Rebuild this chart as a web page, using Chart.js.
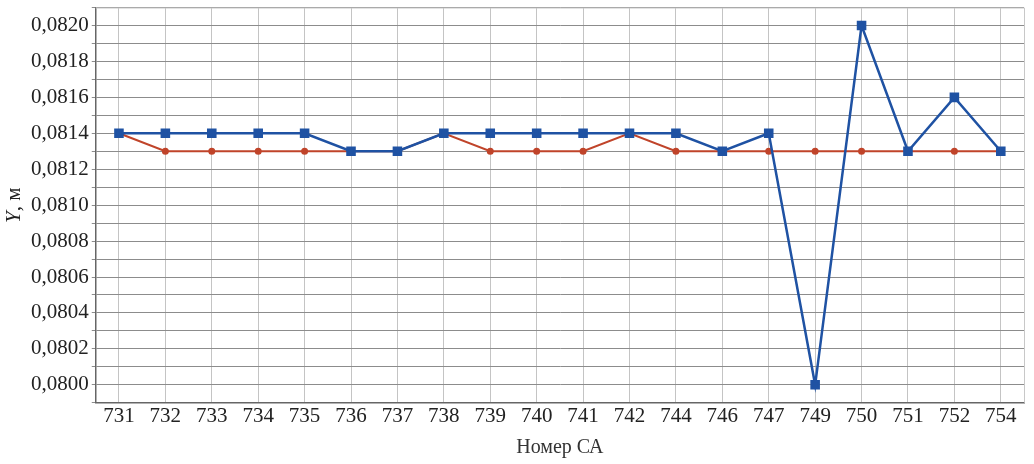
<!DOCTYPE html>
<html>
<head>
<meta charset="utf-8">
<script src="https://cdn.jsdelivr.net/npm/chart.js@4"></script>
<style>
  html, body { margin: 0; padding: 0; background: #fff; }
  #wrap { width: 1034px; height: 464px; }
</style>
</head>
<body>
<div id="wrap"><canvas id="chart"></canvas></div>
<script>
const categories = ["731", "732", "733", "734", "735", "736", "737", "738", "739", "740",
    "741", "742", "744", "746", "747", "749", "750", "751", "752", "754"];
const blueValues = [0.0814, 0.0814, 0.0814, 0.0814, 0.0814, 0.0813, 0.0813, 0.0814, 0.0814, 0.0814,
    0.0814, 0.0814, 0.0814, 0.0813, 0.0814, 0.0800, 0.0820, 0.0813, 0.0816, 0.0813];
const redValues = [0.0814, 0.0813, 0.0813, 0.0813, 0.0813, 0.0813, 0.0813, 0.0814, 0.0813, 0.0813,
    0.0813, 0.0814, 0.0813, 0.0813, 0.0813, 0.0813, 0.0813, 0.0813, 0.0813, 0.0813];
const yMin = 0.0799;
const yMax = 0.0821;
const yStep = 0.0001;
const xTitle = "Номер СА";

const serif = "'Liberation Serif', 'DejaVu Serif', serif";

// frame on top/right + y title with italic Y
const extras = {
    id: "extras",
    beforeDatasetsDraw(chart) {
        const { ctx, chartArea: a } = chart;
        ctx.save();
        ctx.strokeStyle = "#c8c8c8";
        ctx.lineWidth = 1;
        ctx.beginPath();
        ctx.moveTo(a.left, a.top + 0.5);
        ctx.lineTo(a.right + 0.5, a.top + 0.5);
        ctx.lineTo(a.right + 0.5, a.bottom);
        ctx.stroke();
        ctx.restore();
    },
    afterDraw(chart) {
        const { ctx, chartArea: a } = chart;
        ctx.save();
        ctx.translate(14, (a.top + a.bottom) / 2);
        ctx.rotate(-Math.PI / 2);
        ctx.fillStyle = "#222";
        ctx.textBaseline = "middle";
        ctx.font = "italic 21px " + serif;
        const w1 = ctx.measureText("Y").width;
        ctx.font = "21px " + serif;
        const w2 = ctx.measureText(", м").width;
        let x = -(w1 + w2) / 2;
        ctx.font = "italic 21px " + serif;
        ctx.fillText("Y", x, 0);
        ctx.font = "21px " + serif;
        ctx.fillText(", м", x + w1, 0);
        ctx.restore();
    }
};

new Chart(document.getElementById("chart"), {
    type: "line",
    data: {
        labels: categories,
        datasets: [
            {
                data: redValues,
                borderColor: "#c0442a",
                backgroundColor: "#c0442a",
                borderWidth: 2,
                pointStyle: "circle",
                pointRadius: 2.5,
                tension: 0,
                order: 2
            },
            {
                data: blueValues,
                borderColor: "#1f52a3",
                backgroundColor: "#1f52a3",
                borderWidth: 2.5,
                pointStyle: "rect",
                pointRadius: 5,
                tension: 0,
                order: 1
            }
        ]
    },
    options: {
        responsive: true,
        maintainAspectRatio: false,
        animation: false,
        layout: { padding: { left: 28, right: 10, top: 6, bottom: 4 } },
        plugins: {
            legend: { display: false },
            tooltip: { enabled: false }
        },
        scales: {
            x: {
                offset: true,
                grid: { offset: false, color: "#c4c4c4", lineWidth: 1, drawTicks: false },
                border: { color: "#666", width: 1.5 },
                ticks: { color: "#222", font: { family: serif, size: 21 }, padding: 1, maxRotation: 0, autoSkip: false },
                title: { display: true, text: xTitle, color: "#333", font: { family: serif, size: 20 }, padding: { top: 6, bottom: 0 } }
            },
            y: {
                min: yMin,
                max: yMax,
                grid: { color: "#8c8c8c", lineWidth: 1, tickLength: 4 },
                border: { color: "#666", width: 1.5 },
                afterFit(scale) {
                    scale.paddingTop = 0;
                    scale.paddingBottom = 0;
                },
                ticks: {
                    stepSize: yStep,
                    autoSkip: false,
                    color: "#222",
                    font: { family: serif, size: 21 },
                    padding: 3,
                    callback: function (v) {
                        const n = Math.round(v * 10000);
                        if (n % 2 !== 0) return "";
                        return (n / 10000).toFixed(4).replace(".", ",");
                    }
                }
            }
        }
    },
    plugins: [extras]
});
</script>
</body>
</html>
